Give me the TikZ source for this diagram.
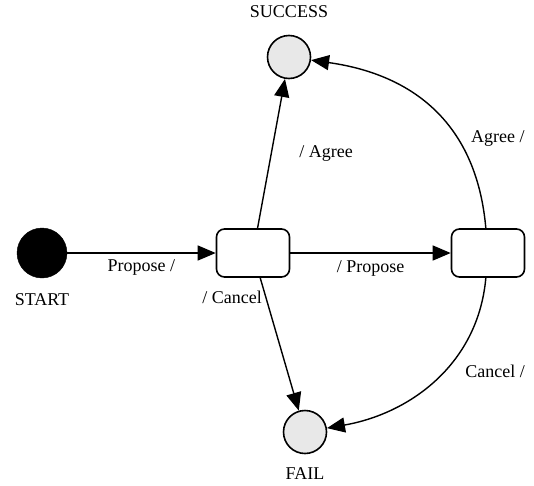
\documentclass[tikz,border=0pt]{standalone}
\usepackage{fontspec}
\setmainfont{Liberation Serif}
\usetikzlibrary{arrows.meta,positioning}

\begin{document}
\begin{tikzpicture}[x=1pt, y=1pt, font=\fontsize{18}{21}\selectfont,
    stbox/.style={draw, line width=1.6pt, rounded corners=8pt,
                  minimum width=73pt, minimum height=48pt, inner sep=0pt},
    startdot/.style={circle, draw, fill=black, minimum size=50pt, inner sep=0pt},
    enddot/.style={circle, draw, line width=1.6pt, fill=black!9,
                   minimum size=43pt, inner sep=0pt},
    trans/.style={line width=1.4pt, -{Triangle[length=18pt,width=15pt]}}]
  \useasboundingbox (0,0) rectangle (534,-485);
  % states
  \node[startdot, label={[label distance=12pt]below:START}] (start) at (42,-253) {};
  \node[stbox] (proposed) at (253,-253) {};
  \node[stbox] (counter) at (488,-253) {};
  \node[enddot, label={[label distance=13pt]above:SUCCESS}] (success) at (289,-57) {};
  \node[enddot, label={[label distance=10pt]below:FAIL}] (fail) at (305,-432) {};

  % transitions
  \draw[trans] (start) -- node[below=3pt] {Propose /} (proposed);
  \draw[trans] (proposed) -- node[below=4pt] {/ Propose} (counter);
  \draw[trans] (proposed) -- node[right=24pt] {/ Agree} (success);
  \draw[trans] (proposed) -- node[pos=0.15, left=0pt] {/ Cancel} (fail);
  \draw[trans] (counter) to[out=95, in=-8, looseness=1.1]
    node[pos=0.35, right=10pt] {Agree /} (success);
  \draw[trans] (counter) to[out=-95, in=10]
    node[pos=0.45, right=18pt] {Cancel /} (fail);
\end{tikzpicture}
\end{document}
